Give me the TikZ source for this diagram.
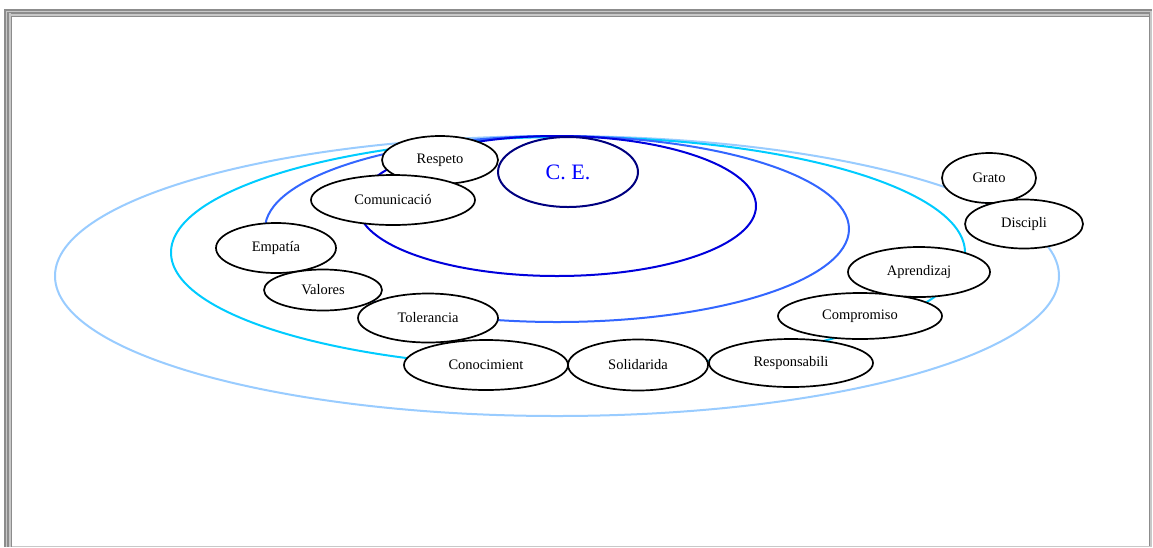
\documentclass[tikz,border=0pt]{standalone}
\usepackage{fontspec}
\setmainfont{Liberation Serif}
\usetikzlibrary{shapes.geometric}
\definecolor{ringA}{RGB}{153,204,255}
\definecolor{ringB}{RGB}{0,204,255}
\definecolor{ringC}{RGB}{51,102,255}
\definecolor{ringD}{RGB}{0,0,220}
\definecolor{navyce}{RGB}{0,0,128}
\definecolor{frameD}{RGB}{140,140,140}
\definecolor{frameL}{RGB}{200,200,200}
\tikzset{
  ring/.style={line width=2pt},
  term/.style={ellipse, draw=black, line width=1.7pt, fill=white, inner sep=0pt, font=\fontsize{14.5}{16}\selectfont},
}
\begin{document}
\begin{tikzpicture}[x=1pt,y=-1pt]
\useasboundingbox (0,0) rectangle (1153,547);
\fill[white] (0,0) rectangle (1153,547);
% frame
\fill[frameD] (4,9) rectangle (12,547);
\fill[frameD] (4,9) rectangle (1152,17);
\fill[frameL] (5.5,10.5) rectangle (7,547);
\fill[frameL] (9,13) rectangle (11,547);
\fill[frameL] (5.5,10.5) rectangle (1152,12);
\fill[frameL] (9,14) rectangle (1148.5,16);
\fill[frameD] (1148.5,14) rectangle (1150,547);
\fill[frameL] (1150,12) rectangle (1151.5,547);
\fill[frameL] (12,545.5) rectangle (1150,547);
% rings
\draw[ring, ringA] (557,276) ellipse [x radius=502, y radius=140];
\draw[ring, ringB] (568,252.5) ellipse [x radius=397, y radius=115.5];
\draw[ring, ringC] (557,229) ellipse [x radius=292, y radius=93];
\draw[ring, ringD] (557,206) ellipse [x radius=199, y radius=70];
% centre
\node[ellipse, draw=navyce, line width=2pt, fill=white, inner sep=0pt,
  minimum width=140pt, minimum height=70pt, text=blue,
  font=\fontsize{22}{24}\selectfont] (ce) at (568,172) {C. E.};
% terms
\node[term, minimum width=116pt, minimum height=48pt] (respeto) at (440,160) {Respeto};
\node[term, minimum width=164pt, minimum height=50pt] (comunicacio) at (393,200) {Comunicació};
\node[term, minimum width=120pt, minimum height=50pt] (empatia) at (276,248) {Empatía};
\node[term, minimum width=118pt, minimum height=41pt] (valores) at (323,290) {Valores};
\node[term, minimum width=140pt, minimum height=49pt] (tolerancia) at (428,318) {Tolerancia};
\node[term, minimum width=164pt, minimum height=50pt] (conocimiento) at (486,365) {Conocimient};
\node[term, minimum width=140pt, minimum height=51pt] (solidaridad) at (638,365) {Solidarida};
\node[term, minimum width=164pt, minimum height=48pt] (responsabilidad) at (791,363) {Responsabili};
\node[term, minimum width=164pt, minimum height=46pt] (compromiso) at (860,316) {Compromiso};
\node[term, minimum width=142pt, minimum height=50pt] (aprendizaje) at (919,272) {Aprendizaj};
\node[term, minimum width=94pt, minimum height=50pt] (grato) at (989,178) {Grato};
\node[term, minimum width=118pt, minimum height=49pt] (disciplina) at (1024,224) {Discipli};
\end{tikzpicture}
\end{document}
